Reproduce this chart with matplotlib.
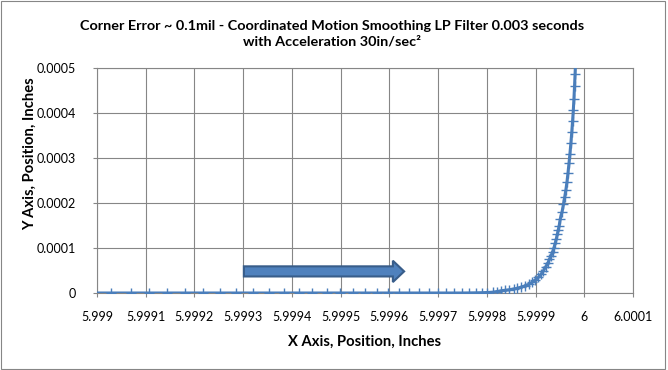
import numpy as np
import matplotlib
matplotlib.use("Agg")
import matplotlib.pyplot as plt
from matplotlib.patches import FancyArrow, Rectangle

plt.rcParams['font.family'] = ['Lato', 'DejaVu Sans']

# positions, in micro-inches (offset of X from 5.999)
x_offset_uin = [-14, 28, 69, 107, 144, 181, 218, 253, 286, 320, 352, 383, 414, 442, 472,
                499, 525, 550, 574, 597, 619, 640, 661, 681, 699, 716, 732, 749, 764, 778,
                790, 801, 812, 821, 830, 838, 846, 855, 862, 871, 879, 886, 893, 899, 906,
                911, 916, 920.5, 925, 928.5, 932, 935, 937.8, 940.3, 942.6, 944.7, 946.6, 948.4,
                950.8, 954.5, 957.3, 959.8, 962.2, 964.5, 966.6, 968.6, 970.6, 972.5, 974.3,
                976.0, 977.5, 978.8, 980.0, 981.1, 982.2]
y_uin = [0, 0, 0, 0, 0, 0, 0, 0, 0, 0, 0, 0, 0, 0, 0,
         0, 0, 0, 0, 0, 0, 0, 0, 0, 0, 0, 0, 0, 0.2, 0.4,
         0.7, 1.1, 1.8, 3.3, 5.1, 6.2, 7.3, 8.9, 10.4, 13.3, 16.2, 19.3, 23.8, 28.9, 34.9,
         41.6, 48.9, 57.8, 66.0, 74.9, 82.9, 91.8, 100.7, 110.4, 120.0, 130.4, 140.0, 148.9,
         165, 181, 197, 213, 229, 247, 267, 288, 310, 333, 357,
         382, 406, 432, 459, 486, 514]

x_base = 5.999
x_ticks = [5.999, 5.9991, 5.9992, 5.9993, 5.9994, 5.9995, 5.9996, 5.9997, 5.9998, 5.9999, 6.0, 6.0001]
x_tick_labels = ["5.999", "5.9991", "5.9992", "5.9993", "5.9994", "5.9995", "5.9996",
                 "5.9997", "5.9998", "5.9999", "6", "6.0001"]
y_ticks = [0, 0.0001, 0.0002, 0.0003, 0.0004, 0.0005]
y_tick_labels = ["0", "0.0001", "0.0002", "0.0003", "0.0004", "0.0005"]

x = x_base + np.array(x_offset_uin) * 1e-6
y = np.array(y_uin) * 1e-6

fig = plt.figure(figsize=(6.68, 3.70), dpi=100)
ax = fig.add_axes([97 / 668, 77 / 370, 536 / 668, 225 / 370])

grid_c = '#868686'
ax.plot(x, y, color='#4A7EBB', lw=2.2, marker='+', ms=6.5, mew=1.0, clip_on=True, zorder=3)

ax.set_xlim(5.999, 6.0001)
ax.set_ylim(0, 0.0005)
ax.set_xticks(x_ticks)
ax.set_xticklabels(x_tick_labels)
ax.set_yticks(y_ticks)
ax.set_yticklabels(y_tick_labels)
ax.grid(True, color=grid_c, lw=0.8)
ax.set_axisbelow(True)
for s in ax.spines.values():
    s.set_color(grid_c)
    s.set_linewidth(0.8)
ax.tick_params(axis='both', colors=grid_c, labelcolor='black', labelsize=9, length=3, width=0.8)
ax.tick_params(axis='x', pad=10)
ax.tick_params(axis='y', pad=12)

# block arrow drawn on the chart
arr = FancyArrow(0.274, 0.096, 0.278, 0, width=0.045, head_width=0.095, head_length=0.021,
                 length_includes_head=False, transform=ax.transAxes,
                 facecolor='#4F81BD', edgecolor='#385D8A', lw=1.5, zorder=4)
ax.add_patch(arr)

fig.text(0.497, 0.909, "Corner Error ~ 0.1mil - Coordinated Motion Smoothing LP Filter 0.003 seconds\nwith Acceleration 30in/sec\u00b2",
         ha='center', va='center', fontsize=10.4, fontweight='bold', linespacing=1.4)
fig.text(0.546, 0.076, "X Axis, Position, Inches", ha='center', va='center',
         fontsize=10.6, fontweight='bold')
fig.text(0.045, 0.584, "Y Axis, Position, Inches", ha='center', va='center',
         fontsize=10.6, fontweight='bold', rotation=90)

fig.patches.append(Rectangle((0.002, 0.003), 0.994, 0.993, transform=fig.transFigure,
                             fill=False, edgecolor=grid_c, lw=0.8))

fig.savefig("out.png", dpi=100)
